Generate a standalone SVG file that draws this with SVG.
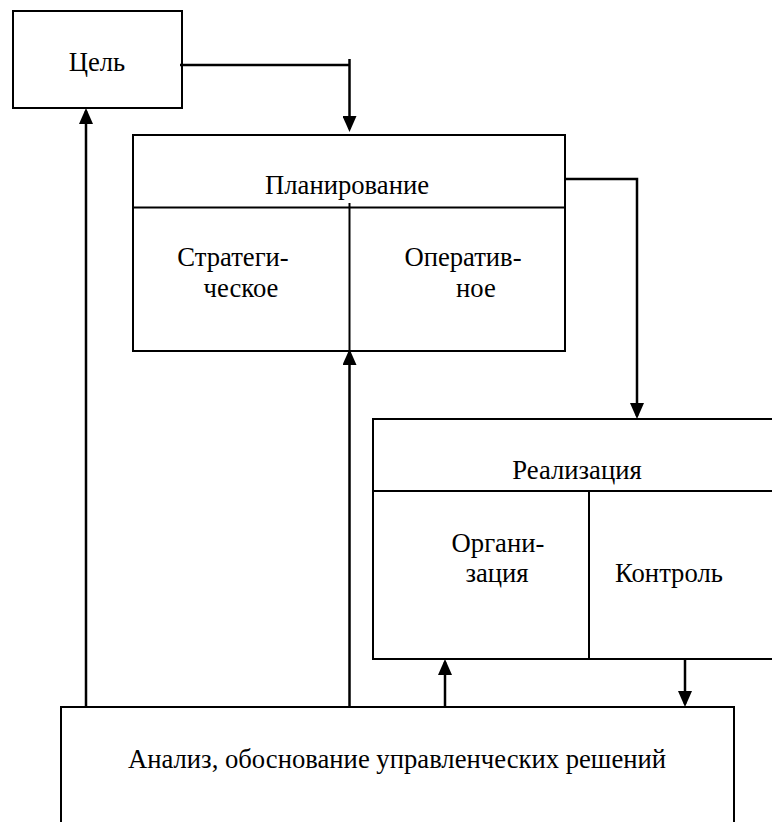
<svg xmlns="http://www.w3.org/2000/svg" width="772" height="822" viewBox="0 0 772 822">
  <style>
    .box { fill: #ffffff; stroke: #000000; stroke-width: 2; }
    .div { fill: none; stroke: #000000; stroke-width: 2; }
    .conn { fill: none; stroke: #000000; stroke-width: 2.5; }
    text { font-family: 'Liberation Serif', 'Times New Roman', 'DejaVu Serif', serif; font-size: 26.67px; fill: #000000; text-anchor: middle; }
  </style>
  <defs>
    <marker id="arrow" viewBox="0 0 16 14" refX="13" refY="7" markerWidth="16" markerHeight="14" markerUnits="userSpaceOnUse" orient="auto">
      <path d="M0,0 L16,7 L0,14 z" fill="#000000"/>
    </marker>
  </defs>
  <rect width="772" height="822" fill="#ffffff"/>

  <g id="goal">
    <rect class="box" x="13" y="11" width="169" height="97"/>
    <text x="97" y="71" font-family="Liberation Serif, serif">Цель</text>
  </g>

  <g id="planning">
    <rect class="box" x="133" y="135" width="432" height="216"/>
    <line class="div" x1="133" y1="207.5" x2="565" y2="207.5"/>
    <line class="div" x1="349.5" y1="203" x2="349.5" y2="351"/>
    <text x="347" y="194" font-family="Liberation Serif, serif">Планирование</text>
    <text x="233" y="266" font-family="Liberation Serif, serif">Стратеги-</text>
    <text x="241" y="297" font-family="Liberation Serif, serif">ческое</text>
    <text x="463" y="266" font-family="Liberation Serif, serif">Оператив-</text>
    <text x="476" y="297" font-family="Liberation Serif, serif">ное</text>
  </g>

  <g id="realization">
    <rect class="box" x="373" y="419" width="420" height="240"/>
    <line class="div" x1="373" y1="491" x2="793" y2="491"/>
    <line class="div" x1="589" y1="491" x2="589" y2="659"/>
    <text x="577" y="479" font-family="Liberation Serif, serif">Реализация</text>
    <text x="498" y="552" font-family="Liberation Serif, serif">Органи-</text>
    <text x="497" y="582" font-family="Liberation Serif, serif">зация</text>
    <text x="669" y="582" font-family="Liberation Serif, serif">Контроль</text>
  </g>

  <g id="analysis">
    <rect class="box" x="61" y="707" width="673" height="140"/>
    <text x="397" y="768" font-family="Liberation Serif, serif">Анализ, обоснование управленческих решений</text>
  </g>

  <g id="connectors">
    <polyline class="conn" points="180,65 349.5,65"/>
    <line class="conn" x1="349.5" y1="59" x2="349.5" y2="129" marker-end="url(#arrow)"/>
    <polyline class="conn" points="565,179 637,179 637,416" marker-end="url(#arrow)"/>
    <line class="conn" x1="86" y1="707" x2="86" y2="111" marker-end="url(#arrow)"/>
    <line class="conn" x1="349.5" y1="707" x2="349.5" y2="352" marker-end="url(#arrow)"/>
    <line class="conn" x1="445" y1="707" x2="445" y2="662" marker-end="url(#arrow)"/>
    <line class="conn" x1="685" y1="659" x2="685" y2="704" marker-end="url(#arrow)"/>
  </g>
</svg>
